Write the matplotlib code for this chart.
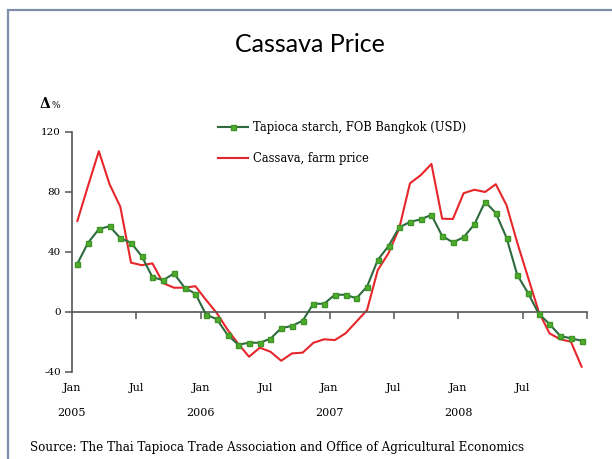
import numpy as np
import matplotlib.pyplot as plt
from matplotlib.patches import Rectangle

# Datos mensuales, ene 2005 - dic 2008 (variación %)
tapioca_starch = [32, 46, 55, 57, 49, 46, 37, 23, 21, 25.5, 16, 12,
                  -2, -5, -15.5, -22, -20.7, -20.7, -18, -11, -9.5, -6, 5.3, 5.3,
                  11.3, 11.3, 8.9, 16.7, 34.5, 43.8, 56.2, 59.8, 61.6, 64.5, 50.5, 46.2,
                  49.6, 58.2, 73.3, 65.8, 49.3, 24.5, 12.5, -1.3, -8.2, -16.1, -17.8, -19.3]
cassava_farm = [60.5, 84, 107, 85, 70, 32.7, 31, 32.2, 19, 16, 16, 17,
                7.8, -1, -12, -21.5, -30, -24, -26.7, -32.7, -27.8, -27.3, -20.7, -18.4,
                -18.9, -14.4, -6.7, 1.1, 27.8, 39, 55.6, 85.6, 91, 98.5, 62, 61.8,
                79, 81.3, 79.8, 85, 71, 46, 23, 0, -14.4, -18.4, -20, -36.7]
month_labels = ['Jan', 'Jul', 'Jan', 'Jul', 'Jan', 'Jul', 'Jan', 'Jul']
year_labels = ['2005', '2006', '2007', '2008']
y_ticks = [-40, 0, 40, 80, 120]

serif = 'DejaVu Serif'
x = np.arange(len(tapioca_starch)) + 0.5

fig = plt.figure(figsize=(6.12, 4.59), dpi=100)
fig.patch.set_facecolor('white')

# Marco exterior
fig.patches.append(Rectangle((8 / 612, -0.2), 1.2, 1.2 - 10 / 459,
                             transform=fig.transFigure, fill=False,
                             edgecolor='#7d8ea8', linewidth=1.6))

ax = fig.add_axes([72 / 612, 1 - 371.7 / 459, 515 / 612, 240 / 459])
ax.set_xlim(0, 48)
ax.set_ylim(-40, 120)

ax.plot(x, tapioca_starch, color='#2d6a3e', linewidth=1.5, marker='s',
        markersize=3.6, markerfacecolor='#4fae2c', markeredgecolor='#3f9428',
        label='Tapioca starch, FOB Bangkok (USD)', zorder=3)
ax.plot(x, cassava_farm, color='#e6262a', linewidth=1.5,
        label='Cassava, farm price', zorder=2)

for s in ['top', 'right']:
    ax.spines[s].set_visible(False)
ax.spines['bottom'].set_position(('data', 0))
ax.spines['bottom'].set_color('#555555')
ax.spines['left'].set_color('#555555')
ax.spines['bottom'].set_linewidth(1.2)
ax.spines['left'].set_linewidth(1.2)

ax.set_yticks(y_ticks)
ax.set_yticklabels([str(v) for v in y_ticks], fontsize=7.5, family=serif)
ax.set_xticks(np.arange(6, 49, 6))
ax.set_xticklabels([])
ax.tick_params(axis='both', direction='out', length=5, width=1.1, color='#555555')
ax.tick_params(axis='y', pad=3)

# Etiquetas del eje x debajo del gráfico
tr = ax.get_xaxis_transform()
for i, lab in enumerate(month_labels):
    ax.text(i * 6, -0.068, lab, transform=tr, ha='center', va='center',
            fontsize=8, family=serif)
for i, lab in enumerate(year_labels):
    ax.text(i * 12, -0.172, lab, transform=tr, ha='center', va='center',
            fontsize=8, family=serif)

leg = ax.legend(loc='upper left', bbox_to_anchor=(212 / 612, 1 - 115 / 459),
                bbox_transform=fig.transFigure, frameon=False,
                prop={'family': serif, 'size': 8.3}, handlelength=2.6,
                handletextpad=0.45, labelspacing=1.6, borderpad=0)

fig.text(310 / 612, 1 - 45 / 459, 'Cassava Price', ha='center', va='center',
         fontsize=18, family='Lato')
fig.text(40 / 612, 1 - 104 / 459, 'Δ', ha='left', va='center', fontsize=10,
         family=serif, fontweight='bold')
fig.text(51 / 612, 1 - 105 / 459, '%', ha='left', va='center', fontsize=6.5,
         family=serif)
fig.text(30 / 612, 1 - 447 / 459,
         'Source: The Thai Tapioca Trade Association and Office of Agricultural Economics',
         ha='left', va='center', fontsize=8.6, family=serif)

fig.savefig('out.png', dpi=100)
